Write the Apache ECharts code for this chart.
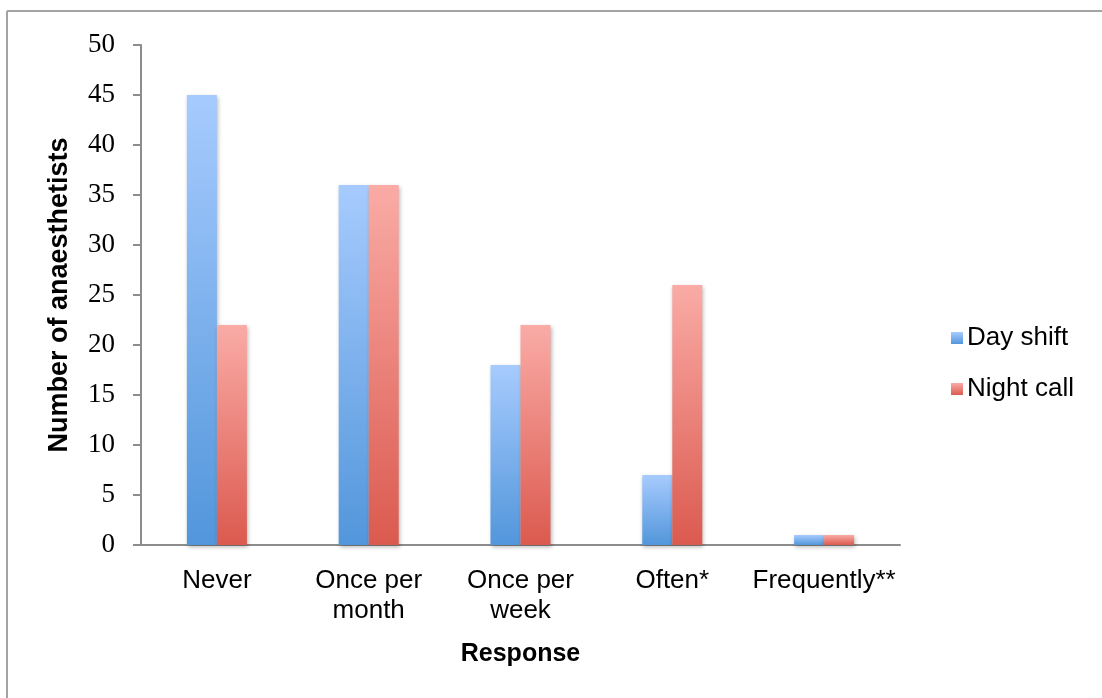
<!DOCTYPE html>
<html>
<head>
<meta charset="utf-8">
<script src="https://cdn.jsdelivr.net/npm/echarts@6/dist/echarts.min.js"></script>
<style>
  html, body { margin: 0; padding: 0; background: #fff; }
  #chart { width: 1102px; height: 698px; }
</style>
</head>
<body>
<div id="chart"></div>
<script>
// Survey responses: how often anaesthetists report the situation, by shift type
const categories = ['Never', 'Once per\nmonth', 'Once per\nweek', 'Often*', 'Frequently**'];
const dayShift = [45, 36, 18, 7, 1];
const nightCall = [22, 36, 22, 26, 1];
const yTicks = { min: 0, max: 50, interval: 5 };

const sans = 'Liberation Sans, Arial, sans-serif';
const serif = 'Liberation Serif, Times New Roman, serif';

function vGrad(top, bottom) {
  return new echarts.graphic.LinearGradient(0, 0, 0, 1, [
    { offset: 0, color: top },
    { offset: 1, color: bottom }
  ]);
}

const barShadow = {
  shadowBlur: 4,
  shadowColor: 'rgba(0,0,0,0.28)',
  shadowOffsetX: 1,
  shadowOffsetY: 2
};

const chart = echarts.init(document.getElementById('chart'), null, { renderer: 'canvas' });
chart.setOption({
  animation: false,
  backgroundColor: '#ffffff',
  graphic: [
    { type: 'line', shape: { x1: 7, y1: 11, x2: 1102, y2: 11 }, style: { stroke: '#a3a3a3', lineWidth: 2 } },
    { type: 'line', shape: { x1: 7, y1: 11, x2: 7, y2: 698 }, style: { stroke: '#a3a3a3', lineWidth: 2 } }
  ],
  grid: { left: 141, right: 202, top: 45, bottom: 153, containLabel: false },
  legend: {
    orient: 'vertical',
    left: 946,
    top: 320,
    itemWidth: 12,
    itemHeight: 12,
    itemGap: 25,
    icon: 'rect',
    textStyle: { fontFamily: sans, fontSize: 26, color: '#000', padding: [0, 0, 0, -1] },
    data: ['Day shift', 'Night call']
  },
  xAxis: {
    type: 'category',
    data: categories,
    name: 'Response',
    nameLocation: 'middle',
    nameGap: 97,
    nameTextStyle: { fontFamily: sans, fontSize: 25, fontWeight: 'bold', color: '#000' },
    axisLine: { show: true, lineStyle: { color: '#8c8c8c', width: 2 } },
    axisTick: { show: false },
    axisLabel: { fontFamily: sans, fontSize: 26, color: '#000', margin: 21, lineHeight: 30, interval: 0 },
    splitLine: { show: false }
  },
  yAxis: {
    type: 'value',
    min: yTicks.min,
    max: yTicks.max,
    interval: yTicks.interval,
    name: 'Number of anaesthetists',
    nameLocation: 'middle',
    nameGap: 68,
    nameTextStyle: { fontFamily: sans, fontSize: 27, fontWeight: 'bold', color: '#000' },
    axisLine: { show: true, lineStyle: { color: '#8c8c8c', width: 2 } },
    axisTick: { show: true, length: 8, lineStyle: { color: '#8c8c8c', width: 2 } },
    axisLabel: { fontFamily: serif, fontSize: 27, color: '#000', margin: 26 },
    splitLine: { show: false }
  },
  series: [
    {
      name: 'Day shift',
      type: 'bar',
      data: dayShift,
      barWidth: 30,
      barGap: '0%',
      itemStyle: Object.assign({ color: vGrad('#a7cbfe', '#5296db') }, barShadow)
    },
    {
      name: 'Night call',
      type: 'bar',
      data: nightCall,
      barWidth: 30,
      barGap: '0%',
      itemStyle: Object.assign({ color: vGrad('#faaba6', '#db5a4f') }, barShadow)
    }
  ]
});
</script>
</body>
</html>
